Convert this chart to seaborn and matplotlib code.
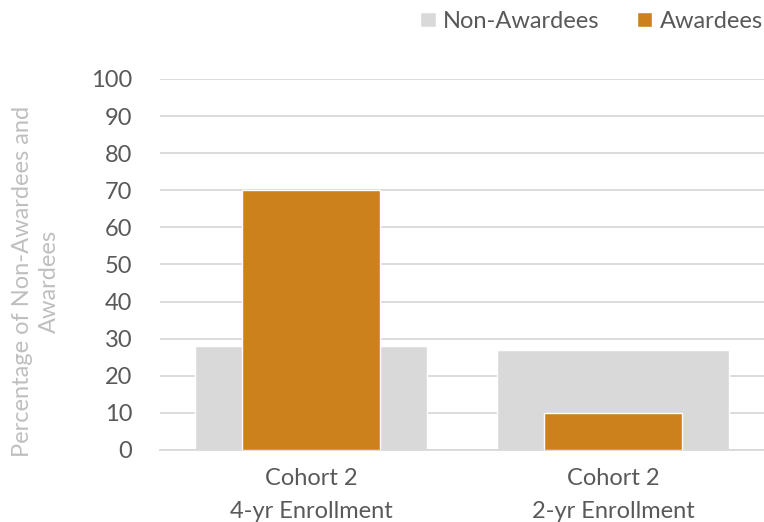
import matplotlib
matplotlib.use("Agg")
import matplotlib.pyplot as plt
from matplotlib.patches import Patch
import seaborn as sns
import pandas as pd

categories = ["Cohort 2\n4-yr Enrollment", "Cohort 2\n2-yr Enrollment"]
non_awardees = [28, 27]
awardees = [70, 10]
y_ticks = [0, 10, 20, 30, 40, 50, 60, 70, 80, 90, 100]

grey = "#d9d9d9"
orange = "#cc811d"
text_color = "#595959"
fs = 17

sns.set_theme(style="white")
plt.rcParams["font.family"] = ["Lato", "DejaVu Sans"]

df = pd.DataFrame({"category": categories,
                   "Non-Awardees": non_awardees,
                   "Awardees": awardees})

fig = plt.figure(figsize=(7.64, 5.22), dpi=100)
ax = fig.add_axes([160 / 764, (522 - 450) / 522, 604 / 764, (450 - 79) / 522])

sns.barplot(data=df, x="category", y="Non-Awardees", color=grey,
            width=0.77, saturation=1, ax=ax, zorder=2)
sns.barplot(data=df, x="category", y="Awardees", color=orange,
            width=0.454, saturation=1, ax=ax, zorder=3)

ax.set_ylim(0, 100)
ax.set_xlim(-0.5, 1.5)
ax.set_yticks(y_ticks)
ax.set_yticklabels([str(v) for v in y_ticks])
ax.yaxis.grid(True, color=grey, linewidth=1.3, zorder=0)
ax.set_axisbelow(True)
for side in ["top", "right", "left"]:
    ax.spines[side].set_visible(False)
ax.spines["bottom"].set_color(grey)
ax.spines["bottom"].set_linewidth(1.3)
ax.tick_params(axis="both", length=0, labelsize=fs, colors=text_color)
ax.tick_params(axis="y", pad=20)
ax.tick_params(axis="x", pad=13)
for lbl in ax.get_xticklabels():
    lbl.set_linespacing(1.7)

ax.set_xlabel("")
ax.set_ylabel("Percentage of Non-Awardees and\nAwardees", fontsize=fs,
              color="#bfbfbf", linespacing=1.4)
ax.yaxis.set_label_coords(-0.165, 0.453)

handles = [Patch(facecolor=grey, label="Non-Awardees"),
           Patch(facecolor=orange, label="Awardees")]
fig.legend(handles=handles, loc="upper right", bbox_to_anchor=(1.026, 1.02),
           ncol=2, frameon=False, fontsize=fs, labelcolor=text_color,
           handlelength=0.65, handleheight=0.65, handletextpad=0.3,
           columnspacing=1.6)

fig.savefig("out.png", dpi=100)
